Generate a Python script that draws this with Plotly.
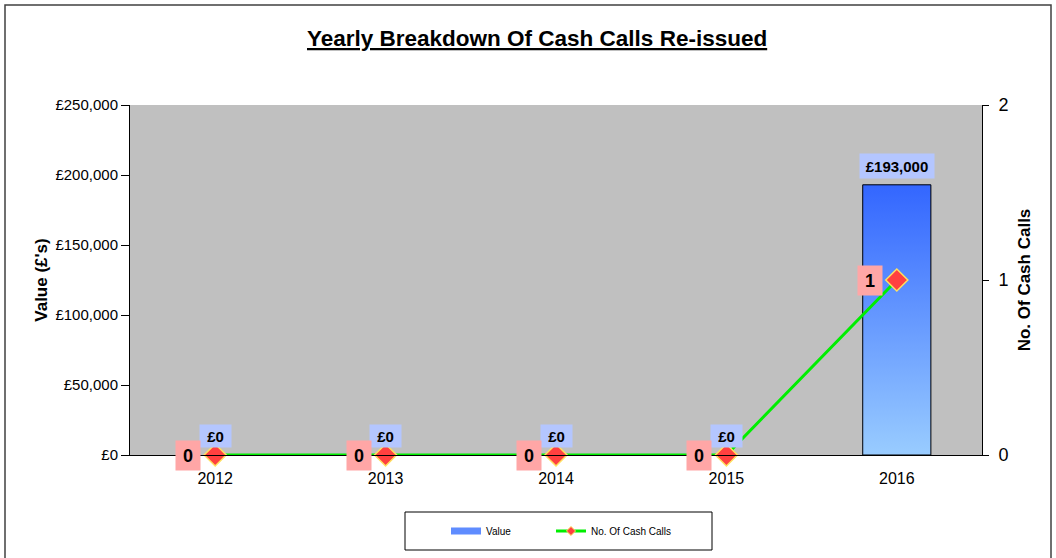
import plotly.graph_objects as go

years = ["2012", "2013", "2014", "2015", "2016"]
values = [0, 0, 0, 0, 193000]
cash_calls = [0, 0, 0, 0, 1]
value_labels = ["£0", "£0", "£0", "£0", "£193,000"]
left_ticks = [0, 50000, 100000, 150000, 200000, 250000]
left_ticktext = ["£0", "£50,000", "£100,000", "£150,000", "£200,000", "£250,000"]
right_ticks = [0, 1, 2]

FONT = "Liberation Sans, Arial, sans-serif"
idx = list(range(len(years)))
BW = 0.4

# pixel layout helpers
L, R, T, B = 130, 982, 105, 455
PW, PH = R - L, B - T


def px(x):
    return (x - L) / PW


def py(y):
    return (B - y) / PH


fig = go.Figure()

fig.add_trace(go.Bar(
    x=idx, y=values, width=BW, name="Value",
    marker=dict(color="#5F8CFF", line=dict(color="black", width=0)),
    yaxis="y", showlegend=False,
))

for i, v in zip(idx, values):
    if v <= 0:
        continue
    fig.add_trace(go.Scatter(
        x=[i - BW / 2, i + BW / 2, i + BW / 2, i - BW / 2, i - BW / 2],
        y=[0, 0, v, v, 0],
        mode="lines", fill="toself",
        line=dict(color="black", width=1),
        fillgradient=dict(type="vertical",
                          colorscale=[[0, "#99CCFF"], [1, "#3366FF"]]),
        showlegend=False, hoverinfo="skip", yaxis="y",
    ))

fig.add_trace(go.Scatter(
    x=idx, y=cash_calls, name="No. Of Cash Calls", mode="lines+markers",
    line=dict(color="#00EE00", width=3),
    marker=dict(symbol="diamond", size=17, color="#FF4040",
                line=dict(color="#FFE060", width=1.5)),
    yaxis="y2", cliponaxis=False, showlegend=False,
))

# legend entries
fig.add_trace(go.Scatter(
    x=[None], y=[None], name="Value", mode="lines",
    line=dict(color="#5F8CFF", width=7), yaxis="y", legend="legend",
))
fig.add_trace(go.Scatter(
    x=[None], y=[None], name="No. Of Cash Calls", mode="lines+markers",
    line=dict(color="#00EE00", width=3),
    marker=dict(symbol="diamond", size=7, color="#FF4040",
                line=dict(color="#FFE060", width=1)),
    yaxis="y2", legend="legend2",
))

annotations = []
for i, v, lab in zip(idx, values, value_labels):
    annotations.append(dict(
        x=i, y=v, xref="x", yref="y", text="<b>" + lab + "</b>",
        showarrow=False, yshift=19, bgcolor="#B4C6FF",
        font=dict(family=FONT, size=15, color="black"),
        width=29 if v == 0 else 72, height=20 if v == 0 else 22, borderpad=1,
    ))
for i, c in zip(idx, cash_calls):
    annotations.append(dict(
        x=i, y=c, xref="x", yref="y2", text="<b>" + str(c) + "</b>",
        showarrow=False, xshift=-27, bgcolor="#FFA6A6",
        font=dict(family=FONT, size=18, color="black"),
        width=22, height=27, borderpad=1,
    ))
annotations.append(dict(
    x=px(537), y=py(39), xref="paper", yref="paper",
    xanchor="center", yanchor="middle",
    text="<b><u>Yearly Breakdown Of Cash Calls Re-issued</u></b>",
    showarrow=False, font=dict(family=FONT, size=22.5, color="black"),
))

legend_common = dict(
    orientation="h", xanchor="left", yanchor="middle", y=py(531),
    borderwidth=0, bgcolor="rgba(0,0,0,0)", font=dict(size=10),
)

fig.update_layout(
    width=1056, height=558,
    margin=dict(l=L, r=1056 - R, t=T, b=558 - B),
    paper_bgcolor="white", plot_bgcolor="#C0C0C0",
    font=dict(family=FONT, size=15, color="black"),
    showlegend=True,
    barmode="overlay",
    xaxis=dict(
        range=[-0.5, 4.5], tickvals=idx, ticktext=years,
        showgrid=False, zeroline=False, showline=True, linecolor="black",
        linewidth=1, ticks="", tickfont=dict(size=16), ticklabelstandoff=9,
    ),
    yaxis=dict(
        range=[0, 250000], tickvals=left_ticks, ticktext=left_ticktext,
        showgrid=False, zeroline=False, showline=True, linecolor="black",
        ticks="outside", ticklen=8, tickcolor="black", tickfont=dict(size=15),
        title=dict(text="<b>Value (£'s)</b>", font=dict(size=17), standoff=3),
    ),
    yaxis2=dict(
        range=[0, 2], tickvals=right_ticks, overlaying="y", side="right",
        showgrid=False, zeroline=False, showline=True, linecolor="black",
        ticks="outside", ticklen=6, tickcolor="black", tickfont=dict(size=18),
        ticklabelstandoff=6,
        title=dict(text="<b>No. Of Cash Calls</b>", font=dict(size=17), standoff=10),
    ),
    legend=dict(x=px(446), **legend_common),
    legend2=dict(x=px(551), **legend_common),
    annotations=annotations,
    shapes=[
        dict(type="rect", xref="paper", yref="paper",
             x0=px(5), x1=px(1051), y0=py(565), y1=py(5),
             line=dict(color="#404040", width=1.5),
             fillcolor="rgba(0,0,0,0)", layer="below"),
        dict(type="rect", xref="paper", yref="paper",
             x0=px(405), x1=px(712), y0=py(550), y1=py(512),
             line=dict(color="black", width=1),
             fillcolor="white", layer="below"),
    ],
)

fig.write_html("out.html", config={"displayModeBar": False},
               post_script="document.body.style.margin='0';")
